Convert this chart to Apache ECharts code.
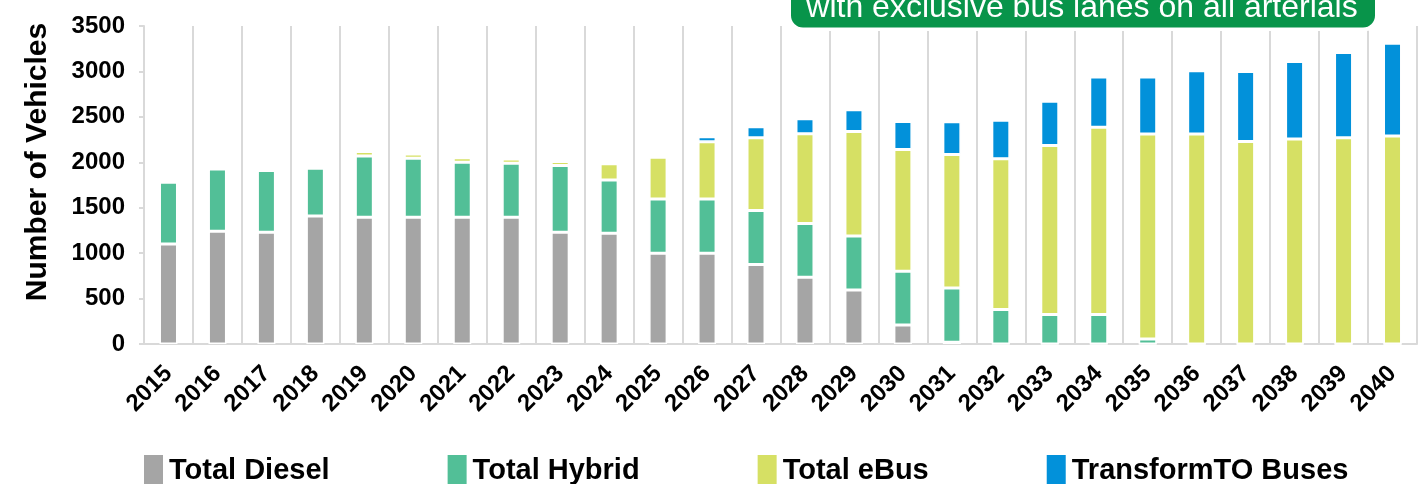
<!DOCTYPE html>
<html>
<head>
<meta charset="utf-8">
<script src="https://cdn.jsdelivr.net/npm/echarts@6/dist/echarts.min.js"></script>
<style>
html,body{margin:0;padding:0;background:#fff;}
#chart{width:1427px;height:484px;}
</style>
</head>
<body>
<div id="chart"></div>
<script>
const years = ['2015','2016','2017','2018','2019','2020','2021','2022','2023','2024','2025','2026','2027','2028','2029','2030','2031','2032','2033','2034','2035','2036','2037','2038','2039','2040'];
const totalDiesel = [1100,1240,1230,1410,1395,1395,1395,1395,1230,1220,1000,1000,875,735,595,210,20,0,0,0,0,0,0,0,0,0];
const totalHybrid = [680,685,680,525,675,650,605,595,735,585,595,595,595,590,595,590,595,380,325,325,55,0,0,0,0,0];
const totalEBus = [0,0,0,0,50,45,50,45,45,180,460,630,800,990,1150,1340,1470,1660,1860,2060,2255,2310,2228,2255,2270,2288];
const transformTO = [0,0,0,0,0,0,0,0,0,0,0,55,120,163,237,308,360,423,487,555,630,698,770,853,938,1022];
const yTicks = {min:0, max:3500, interval:500};
const seriesNames = ['Total Diesel','Total Hybrid','Total eBus','TransformTO Buses'];
const colors = ['#a5a5a5','#52bf97','#d6e064','#0291da'];
const bannerText = 'with exclusive bus lanes on all arterials';
const yTitle = 'Number of Vehicles';

const FONT = '"Liberation Sans", Arial, sans-serif';

const chart = echarts.init(document.getElementById('chart'), null, {renderer:'canvas'});
const dataSets = [totalDiesel,totalHybrid,totalEBus,transformTO];
chart.setOption({
  animation:false,
  color:colors,
  grid:{left:144,right:10,top:26,bottom:140,containLabel:false},
  legend:{
    left:142, top:453, itemWidth:21, itemHeight:34, itemGap:116, padding:0,
    icon:'rect',
    data:seriesNames,
    textStyle:{fontFamily:FONT,fontWeight:'bold',fontSize:29,color:'#000'}
  },
  xAxis:{
    type:'category', data:years,
    axisLine:{show:true,lineStyle:{color:'#d9d9d9',width:2}},
    axisTick:{show:false},
    splitLine:{show:true,interval:0,lineStyle:{color:'#d9d9d9',width:2}},
    axisLabel:{interval:0,rotate:45,fontFamily:FONT,fontWeight:'bold',fontSize:24,color:'#000',margin:26}
  },
  yAxis:{
    type:'value', min:yTicks.min, max:yTicks.max, interval:yTicks.interval,
    name:yTitle, nameLocation:'middle', nameRotate:90, nameGap:91,
    nameTextStyle:{fontFamily:FONT,fontWeight:'bold',fontSize:30,color:'#000',padding:[0,0,0,46]},
    axisLine:{show:true,lineStyle:{color:'#d9d9d9',width:2}},
    axisTick:{show:true,length:5,lineStyle:{color:'#d9d9d9',width:2}},
    splitLine:{show:false},
    axisLabel:{fontFamily:FONT,fontWeight:'bold',fontSize:24,color:'#000',margin:19,formatter:v=>String(v)}
  },
  series:seriesNames.map((n,i)=>({
    name:n, type:'bar', stack:'total', barWidth:18,
    itemStyle:{color:colors[i],borderColor:'#fff',borderWidth:1.5},
    data:dataSets[i]
  })),
  graphic:[
    {type:'rect',z:100,shape:{x:786,y:-30,width:594,height:61,r:14},style:{fill:'#fff'}},
    {type:'rect',z:101,shape:{x:791,y:-30,width:584,height:57.5,r:[0,0,12,12]},style:{fill:'#08944a'}},
    {type:'text',z:102,x:1082,y:8,style:{text:bannerText,fill:'#fff',font:'32px '+FONT,align:'center',verticalAlign:'middle'}}
  ]
});
</script>
</body>
</html>
